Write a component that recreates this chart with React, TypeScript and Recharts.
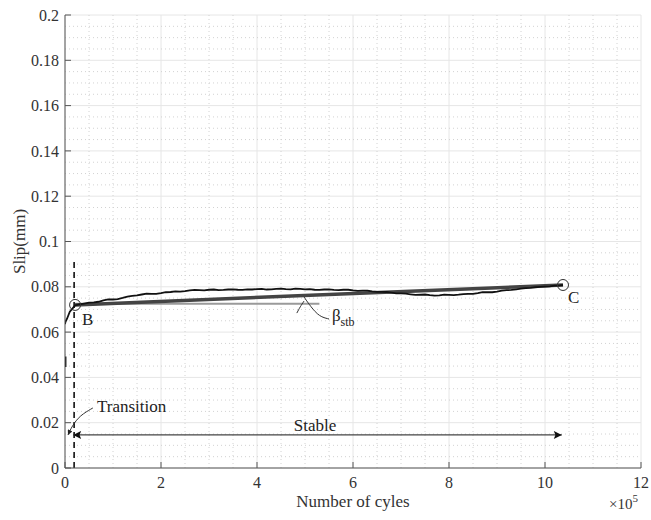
import { ComposedChart, Line, XAxis, YAxis, CartesianGrid, ReferenceLine, ReferenceDot, Label } from 'recharts';

const FONT = '"Liberation Serif", "Times New Roman", serif';

// number of cycles, in units of 1e5
const cycles = [
    0, 0.01, 0.04, 0.1, 0.21, 0.3,
    0.4, 0.5, 0.6, 0.7, 0.8, 0.9, 1.0, 1.1, 1.2, 1.3,
    1.4, 1.5, 1.6, 1.7, 1.8, 1.9, 2.0, 2.1, 2.2, 2.3,
    2.4, 2.5, 2.6, 2.7, 2.8, 2.9, 3.0, 3.1, 3.2, 3.3,
    3.4, 3.5, 3.6, 3.7, 3.8, 3.9, 4.0, 4.1, 4.2, 4.3,
    4.4, 4.5, 4.6, 4.7, 4.8, 4.9, 5.0, 5.1, 5.2, 5.3,
    5.4, 5.5, 5.6, 5.7, 5.8, 5.9, 6.0, 6.1, 6.2, 6.3,
    6.4, 6.5, 6.6, 6.7, 6.8, 6.9, 7.0, 7.1, 7.2, 7.3,
    7.4, 7.5, 7.6, 7.7, 7.8, 7.9, 8.0, 8.1, 8.2, 8.3,
    8.4, 8.5, 8.6, 8.7, 8.8, 8.9, 9.0, 9.1, 9.2, 9.3,
    9.4, 9.5, 9.6, 9.7, 9.8, 9.9, 10.0, 10.1, 10.2, 10.3,
    10.375
];

// measured slip (mm)
const slip = [
    0.0635, 0.0645, 0.0658, 0.069, 0.0718, 0.0722,
    0.0726, 0.073, 0.0731, 0.0734, 0.074, 0.0744, 0.0744, 0.0746, 0.0751, 0.0757,
    0.076, 0.0762, 0.0766, 0.077, 0.0769, 0.0769, 0.0772, 0.0776, 0.0777, 0.078,
    0.0779, 0.0781, 0.0784, 0.0786, 0.0785, 0.0784, 0.0787, 0.0788, 0.0785, 0.0786,
    0.0788, 0.0789, 0.0787, 0.0786, 0.0789, 0.0788, 0.079, 0.0791, 0.0788, 0.0789,
    0.0791, 0.0792, 0.079, 0.0789, 0.0792, 0.0791, 0.0789, 0.079, 0.0787, 0.0786,
    0.0788, 0.0789, 0.0786, 0.0785, 0.0787, 0.0787, 0.0784, 0.0782, 0.0783, 0.0783,
    0.078, 0.0778, 0.0778, 0.0777, 0.0774, 0.0771, 0.0771, 0.077, 0.0767, 0.0764,
    0.0765, 0.0766, 0.0763, 0.0761, 0.0762, 0.0765, 0.0764, 0.0763, 0.0765, 0.0768,
    0.0769, 0.0769, 0.0772, 0.0776, 0.0776, 0.0776, 0.0779, 0.0783, 0.0785, 0.0786,
    0.0789, 0.0792, 0.0794, 0.0795, 0.0798, 0.08, 0.0801, 0.0802, 0.0805, 0.0806,
    0.0808
];

// short early reading sitting on the y axis
const earlyCycles = [0.004, 0.004];
const earlySlip = [0.0446, 0.0492];

const slipData = cycles.map((x, i) => ({ x, y: slip[i] }));
const earlyData = earlyCycles.map((x, i) => ({ x, y: earlySlip[i] }));

const pointB = { x: 0.21, y: 0.072 };
const pointC = { x: 10.375, y: 0.0808 };
const betaData = [pointB, pointC];
const baseLevel = 0.0725;
const baseEnd = 5.3;

const transitionX = 0.19;
const transitionTop = 0.092;
const stableY = 0.0146;
const stableStart = 0.17;
const stableEnd = 10.35;

const transitionLeader = [
    { x: 0.58, y: 0.0265 },
    { x: 0.31, y: 0.0232 },
    { x: 0.146, y: 0.0185 },
    { x: 0.0625, y: 0.0146 }
];
const betaArc = [
    { x: 4.83, y: 0.0684 },
    { x: 4.9, y: 0.0712 },
    { x: 4.98, y: 0.0737 }
];
const betaLeader = [
    { x: 4.98, y: 0.0755 },
    { x: 5.12, y: 0.0712 },
    { x: 5.3, y: 0.0668 },
    { x: 5.5, y: 0.0658 }
];

const xTicks = [0, 2, 4, 6, 8, 10, 12];
const yTicks = [0, 0.02, 0.04, 0.06, 0.08, 0.1, 0.12, 0.14, 0.16, 0.18, 0.2];
const xMinor = Array.from({ length: 25 }, (_, i) => i * 0.5).filter(v => v % 2 !== 0);
const yMinor = Array.from({ length: 41 }, (_, i) => i).filter(i => i % 4 !== 0).map(i => i * 0.005);

const tickStyle = { fontSize: 16, fill: '#333', fontFamily: FONT };

function note(x: number, y: number, text: React.ReactNode, anchor: 'start' | 'middle' = 'start', size = 17) {
    return (
        <ReferenceDot
            x={x}
            y={y}
            r={0}
            fill="none"
            stroke="none"
            label={{
                content: (props: any) => (
                    <text x={props.viewBox.x} y={props.viewBox.y} textAnchor={anchor} fontSize={size} fontFamily={FONT} fill="#222">
                        {text}
                    </text>
                )
            }}
        />
    );
}

export default function App() {
    return (
        <div style={{ position: 'absolute', left: 0, top: 0, background: '#fff' }}>
            <ComposedChart width={651} height={520} margin={{ top: 15, right: 10, bottom: 22, left: 0 }}>
                <CartesianGrid stroke="#e6e6e6" strokeWidth={1} />
                {xMinor.map(v => (
                    <ReferenceLine key={`xm${v}`} x={v} stroke="#d2d2d2" strokeDasharray="1 3" />
                ))}
                {yMinor.map(v => (
                    <ReferenceLine key={`ym${v}`} y={v} stroke="#d2d2d2" strokeDasharray="1 3" />
                ))}
                <XAxis
                    type="number"
                    dataKey="x"
                    domain={[0, 12]}
                    ticks={xTicks}
                    height={30}
                    tickSize={-6}
                    tickMargin={15}
                    stroke="#555"
                    tick={tickStyle}
                    allowDataOverflow
                >
                    <Label
                        content={(props: any) => {
                            const { x, y, width } = props.viewBox;
                            return (
                                <g fontFamily={FONT} fill="#333">
                                    <text x={x + width / 2} y={y + 39} textAnchor="middle" fontSize={17}>Number of cyles</text>
                                    <text x={x + width - 32} y={y + 41} fontSize={15}>
                                        ×10<tspan dy={-7} fontSize={11}>5</tspan>
                                    </text>
                                </g>
                            );
                        }}
                    />
                </XAxis>
                <XAxis
                    xAxisId="t"
                    orientation="top"
                    type="number"
                    domain={[0, 12]}
                    ticks={xTicks}
                    height={0}
                    tickSize={-6}
                    stroke="#555"
                    tickFormatter={() => ''}
                />
                <YAxis
                    type="number"
                    domain={[0, 0.2]}
                    ticks={yTicks}
                    width={65}
                    tickSize={-6}
                    tickMargin={12}
                    stroke="#555"
                    tick={tickStyle}
                    allowDataOverflow
                >
                    <Label
                        content={(props: any) => {
                            const { x, y, height } = props.viewBox;
                            return (
                                <text
                                    transform={`translate(${x + 25},${y + height / 2}) rotate(-90)`}
                                    textAnchor="middle"
                                    fontSize={17}
                                    fontFamily={FONT}
                                    fill="#333"
                                >
                                    Slip(mm)
                                </text>
                            );
                        }}
                    />
                </YAxis>
                <YAxis
                    yAxisId="r"
                    orientation="right"
                    type="number"
                    domain={[0, 0.2]}
                    ticks={yTicks}
                    width={0}
                    tickSize={-6}
                    stroke="#555"
                    tickFormatter={() => ''}
                />

                <ReferenceLine
                    segment={[{ x: pointB.x, y: baseLevel }, { x: baseEnd, y: baseLevel }]}
                    stroke="#9a9a9a"
                    strokeWidth={2}
                />
                <Line data={betaData} dataKey="y" type="linear" stroke="#444" strokeWidth={3.5} dot={false} activeDot={false} isAnimationActive={false} />
                <Line data={slipData} dataKey="y" type="linear" stroke="#111" strokeWidth={1.8} dot={false} activeDot={false} isAnimationActive={false} />
                <Line data={earlyData} dataKey="y" type="linear" stroke="#111" strokeWidth={2.5} dot={false} activeDot={false} isAnimationActive={false} />

                <ReferenceLine
                    segment={[{ x: transitionX, y: 0 }, { x: transitionX, y: transitionTop }]}
                    stroke="#111"
                    strokeWidth={1.6}
                    strokeDasharray="6 4"
                />
                <ReferenceLine
                    segment={[{ x: stableStart, y: stableY }, { x: stableEnd, y: stableY }]}
                    shape={(p: any) => (
                        <g>
                            <defs>
                                <marker id="arrowHead" viewBox="0 0 10 10" refX="10" refY="5" markerWidth="12" markerHeight="8" markerUnits="userSpaceOnUse" orient="auto-start-reverse">
                                    <path d="M0,0 L10,5 L0,10 L2,5 Z" fill="#111" />
                                </marker>
                                <marker id="arrowSmall" viewBox="0 0 10 10" refX="10" refY="5" markerWidth="6" markerHeight="5" markerUnits="userSpaceOnUse" orient="auto">
                                    <path d="M0,0 L10,5 L0,10 Z" fill="#222" />
                                </marker>
                            </defs>
                            <line x1={p.x1} y1={p.y1} x2={p.x2} y2={p.y2} stroke="#444" strokeWidth={1.3} markerStart="url(#arrowHead)" markerEnd="url(#arrowHead)" />
                        </g>
                    )}
                />
                <Line data={transitionLeader} dataKey="y" type="basis" stroke="#333" strokeWidth={1} dot={false} activeDot={false} isAnimationActive={false} markerEnd="url(#arrowSmall)" />
                <Line data={betaArc} dataKey="y" type="basis" stroke="#333" strokeWidth={1} dot={false} activeDot={false} isAnimationActive={false} />
                <Line data={betaLeader} dataKey="y" type="basis" stroke="#333" strokeWidth={1} dot={false} activeDot={false} isAnimationActive={false} />

                <ReferenceDot x={pointB.x} y={pointB.y} r={5.5} fill="none" stroke="#333" strokeWidth={1} />
                <ReferenceDot x={pointC.x} y={pointC.y} r={5.5} fill="none" stroke="#333" strokeWidth={1} />

                {note(0.354, 0.0631, 'B')}
                {note(10.48, 0.0728, 'C')}
                {note(0.667, 0.0247, 'Transition')}
                {note(5.21, 0.0163, 'Stable', 'middle')}
                {note(5.56, 0.0649, <>β<tspan dy={5} fontSize={12}>stb</tspan></>)}
            </ComposedChart>
        </div>
    );
}
